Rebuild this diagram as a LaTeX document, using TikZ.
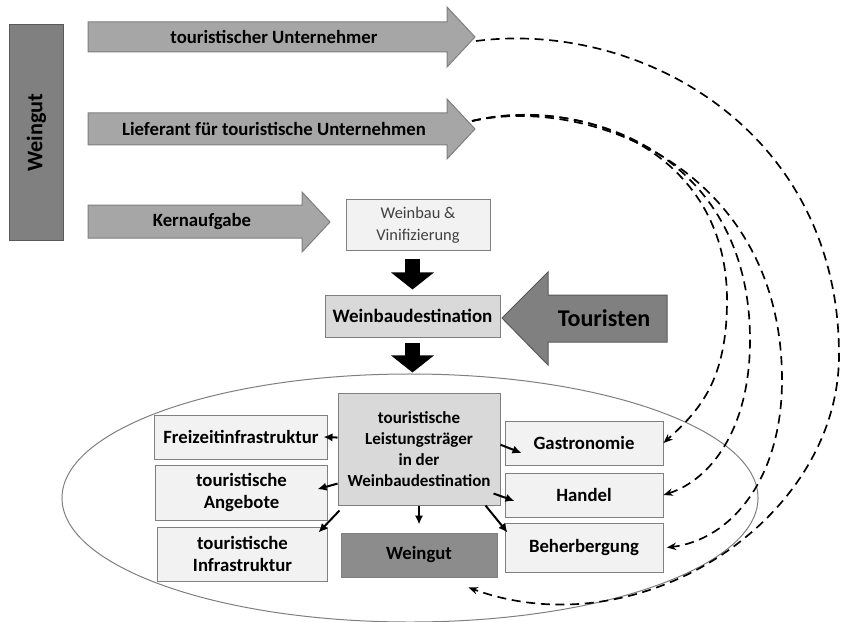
\documentclass[tikz,border=0pt]{standalone}
\usepackage{fontspec}
\setmainfont{Carlito}
\usetikzlibrary{arrows.meta}
\definecolor{lightbox}{HTML}{F2F2F2}
\definecolor{midbox}{HTML}{D9D9D9}
\definecolor{darkbox}{HTML}{8C8C8C}
\definecolor{sidebox}{HTML}{808080}
\definecolor{arrowgray}{HTML}{A6A6A6}
\definecolor{edgegray}{HTML}{7F7F7F}
\definecolor{darkedge}{HTML}{595959}
\definecolor{textgray}{HTML}{404040}
\begin{document}
\begin{tikzpicture}[x=0.03cm, y=-0.03cm,
    infobox/.style={draw=edgegray, line width=0.03cm, align=center, inner sep=0pt,
        font=\bfseries\fontsize{16}{19.5}\selectfont},
    arrowtext/.style={font=\bfseries\fontsize{16}{19}\selectfont},
    bigarrow/.style={draw=edgegray, fill=arrowgray, line width=0.03cm},
    blockarrow/.style={line width=0.45cm, -{Triangle[width=1.26cm,length=0.51cm]}},
    thinarrow/.style={line width=0.06cm, -{Latex[length=0.27cm,width=0.25cm]}},
    dasharrow/.style={line width=0.05cm, dash pattern=on 0.27cm off 0.17cm,
        -{Stealth[length=0.28cm,width=0.22cm]}}]
            \useasboundingbox (0,0) rectangle (841,622);

            % Drawing the ellipse round the destination
            \draw [draw=edgegray, line width=0.03cm] (410,498) ellipse [x radius=10.44cm, y radius=3.72cm];%

            % Drawing vertical box Weingut
            \node [infobox, fill=sidebox, draw=darkedge, rotate=90, minimum width=6.45cm, minimum height=1.59cm,
                font=\bfseries\fontsize{19}{22}\selectfont] (weingut side) at (36.5,132.5) {Weingut};%

            % Drawing arrow touristischer Unternehmer
            \draw [bigarrow] (88,22) -- (447,22) -- (447,7) -- (475,37) -- (447,67) -- (447,52) -- (88,52) -- cycle;%
            \node [arrowtext] (unternehmer) at (274,37) {touristischer Unternehmer};%
            \coordinate (unternehmer tip) at (476,41);

            % Drawing arrow Lieferant
            \draw [bigarrow] (88,113) -- (447,113) -- (447,99) -- (475,129) -- (447,159) -- (447,145) -- (88,145) -- cycle;%
            \node [arrowtext] (lieferant) at (274,129) {Lieferant für touristische Unternehmen};%
            \coordinate (lieferant tip) at (472,121);

            % Drawing arrow Kernaufgabe
            \draw [bigarrow] (88,205) -- (302,205) -- (302,192) -- (330,222) -- (302,252) -- (302,238) -- (88,238) -- cycle;%
            \node [arrowtext] (kern) at (202,222) {Kernaufgabe};%

            % Marking box Weinbau
            \node [infobox, fill=lightbox, minimum width=4.32cm, minimum height=1.5cm, text=textgray,
                font=\fontsize{14}{18.5}\selectfont] (weinbau) at (418,225) {Weinbau \&\\Vinifizierung};%

            % Marking box Weinbaudestination
            \node [infobox, fill=midbox, minimum width=5.25cm, minimum height=1.26cm,
                font=\bfseries\fontsize{16.2}{19}\selectfont] (destination) at (412.5,316) {Weinbaudestination};%

            % Drawing arrow Touristen
            \draw [draw=darkedge, fill=sidebox, line width=0.03cm] (548,295) -- (667,295) -- (667,342) -- (548,342)
                -- (548,365) -- (502,318) -- (548,272) -- cycle;%
            \node [font=\bfseries\fontsize{20.5}{24}\selectfont] (touristen) at (604,318) {Touristen};%

            % Marking the boxes in the ellipse
            \node [infobox, fill=midbox, minimum width=4.86cm, minimum height=3.36cm,
                font=\bfseries\fontsize{14.5}{18}\selectfont] (leistung) at (419,449)
                {touristische\\Leistungsträger\\in der\\Weinbaudestination};%
            \node [infobox, fill=lightbox, minimum width=5.16cm, minimum height=1.32cm] (frei) at (241,437) {Freizeitinfrastruktur};%
            \node [infobox, fill=lightbox, minimum width=5.13cm, minimum height=1.65cm] (angebote) at (241.5,492.5) {touristische\\Angebote};%
            \node [infobox, fill=lightbox, minimum width=5.07cm, minimum height=1.62cm] (infra) at (242.5,554) {touristische\\Infrastruktur};%
            \node [infobox, fill=darkbox, minimum width=4.68cm, minimum height=1.32cm] (weingut dest) at (419,555) {Weingut};%
            \node [infobox, fill=lightbox, minimum width=4.74cm, minimum height=1.32cm] (gastro) at (584,443) {Gastronomie};%
            \node [infobox, fill=lightbox, minimum width=4.74cm, minimum height=1.32cm] (handel) at (584,495) {Handel};%
            \node [infobox, fill=lightbox, minimum width=4.74cm, minimum height=1.47cm] (beherbergung) at (584,547.5) {Beherbergung};%

            % Drawing black arrows down
            \draw [blockarrow, shorten <=0.24cm, shorten >=0.15cm] (destination.north |- weinbau.south) -- (destination.north);%
            \draw [blockarrow, shorten <=0.15cm, shorten >=0.6cm] (destination.south) -- (destination.south |- leistung.north);%

            % Drawing arrows from Leistungstraeger
            \draw [thinarrow] (leistung.172) -- ([xshift=-0.12cm]frei.east);%
            \draw [thinarrow] (leistung.203) -- ([xshift=-0.3cm,yshift=0.1cm]angebote.east);%
            \draw [thinarrow] ([xshift=0.06cm,yshift=-0.15cm]leistung.south west) -- ([xshift=-0.27cm,yshift=-0.18cm]infra.north east);%
            \draw [thinarrow, shorten >=0.24cm] (leistung.south) -- (weingut dest.north);%
            \draw [thinarrow] (leistung.3) -- ([xshift=0.51cm,yshift=-0.3cm]gastro.west);%
            \draw [thinarrow] ([xshift=-0.21cm,yshift=0.36cm]leistung.south east) -- ([xshift=0.3cm,yshift=-0.18cm]handel.west);%
            \draw [thinarrow] ([xshift=-0.45cm]leistung.south east) -- ([xshift=0.09cm,yshift=-0.3cm]beherbergung.north west);%

            % Drawing dashed arcs
            \draw [dasharrow] (unternehmer tip) .. controls (640,20) and (839,130) .. (839,355)
                .. controls (839,520) and (640,650) .. ([xshift=-0.87cm,yshift=-0.3cm]weingut dest.south east);%
            \draw [dasharrow] (lieferant tip) .. controls (580,95) and (727,150) .. (727,300)
                .. controls (727,380) and (700,410) .. (gastro.east);%
            \draw [dasharrow] (lieferant tip) .. controls (580,95) and (750,150) .. (750,340)
                .. controls (750,430) and (710,480) .. (handel.east);%
            \draw [dasharrow] (lieferant tip) .. controls (590,95) and (782,170) .. (782,380)
                .. controls (782,480) and (730,540) .. ([xshift=0.1cm]beherbergung.east);%
\end{tikzpicture}
\end{document}
